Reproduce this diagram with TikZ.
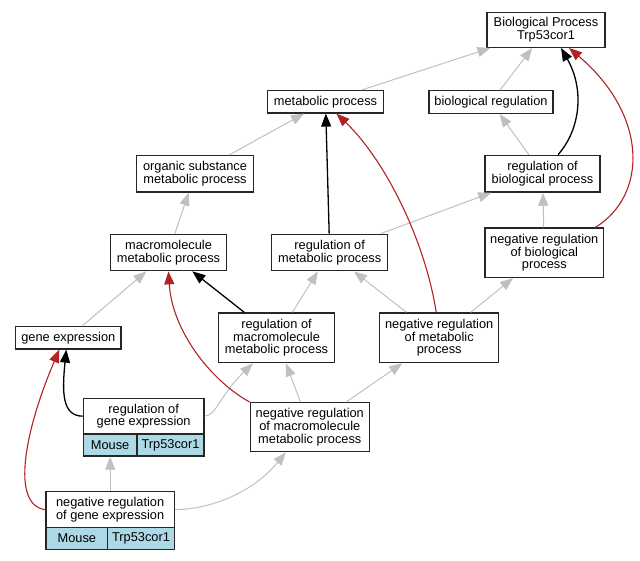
\documentclass[tikz,border=0pt]{standalone}
\usepackage{fontspec}
\setmainfont{Liberation Sans}
\usetikzlibrary{arrows.meta}
\definecolor{edgegray}{RGB}{192,192,192}
\definecolor{edgered}{RGB}{178,34,34}
\definecolor{cellblue}{RGB}{173,216,230}
\tikzset{
  box/.style={draw=black!85, line width=1.3pt, fill=white, inner sep=0pt, align=center,
    font=\fontsize{12.8}{12.8}\selectfont},
  cell/.style={box, fill=cellblue},
  gr/.style={draw=edgegray, line width=1pt, -{Triangle[length=13pt,width=10pt]}, color=edgegray},
  bl/.style={draw=black, line width=1.3pt, -{Triangle[length=13pt,width=10pt]}},
  rd/.style={draw=edgered, line width=1.1pt, -{Triangle[length=13pt,width=10pt]}, color=edgered},
}
\begin{document}
\begin{tikzpicture}[x=1pt,y=-1pt]
\useasboundingbox (0,0) rectangle (640,560);
% nodes
\node[box, minimum width=118pt, minimum height=35pt] (bp) at (546,29.8) {Biological Process\\Trp53cor1};
\node[box, minimum width=116.4pt, minimum height=22.3pt] (mp) at (325.5,101.8) {metabolic process};
\node[box, minimum width=124pt, minimum height=22.6pt] (br) at (491,102) {biological regulation};
\node[box, minimum width=116.6pt, minimum height=36.3pt] (osmp) at (195,173.8) {organic substance\\metabolic process};
\node[box, minimum width=115pt, minimum height=36.7pt] (rbp) at (542.5,173.7) {regulation of\\biological process};
\node[box, minimum width=116.4pt, minimum height=36.4pt] (mmp) at (168.5,252.5) {macromolecule\\metabolic process};
\node[box, minimum width=116pt, minimum height=36.4pt] (rmp) at (329.7,252.5) {regulation of\\metabolic process};
\node[box, minimum width=118.7pt, minimum height=49.3pt] (nrbp) at (544.3,252.7) {negative regulation\\of biological\\process};
\node[box, minimum width=105.3pt, minimum height=22.3pt] (ge) at (68.3,337.8) {gene expression};
\node[box, minimum width=116.4pt, minimum height=49.7pt] (rmmp) at (276.5,337.8) {regulation of\\macromolecule\\metabolic process};
\node[box, minimum width=119pt, minimum height=49.7pt] (nrmp) at (439.2,337.8) {negative regulation\\of metabolic\\process};
\node[box, minimum width=120.7pt, minimum height=35.7pt] (rgeT) at (143.65,416.15) {regulation of\\gene expression};
\node[cell, minimum width=53.7pt, minimum height=22pt] (rgeM) at (110.15,445) {Mouse};
\node[cell, minimum width=67pt, minimum height=22pt] (rgeR) at (170.5,445) {Trp53cor1};
\node[box, minimum width=119pt, minimum height=49pt] (nrmmp) at (309.8,427.2) {negative regulation\\of macromolecule\\metabolic process};
\node[box, minimum width=128.3pt, minimum height=36pt] (nrgeT) at (110.15,509.7) {negative regulation\\of gene expression};
\node[cell, minimum width=61.7pt, minimum height=21.6pt] (nrgeM) at (76.85,538.5) {Mouse};
\node[cell, minimum width=66.6pt, minimum height=21.6pt] (nrgeR) at (141,538.5) {Trp53cor1};
% gray edges
\draw[gr] (mp) -- (bp);
\draw[gr] (br) -- (bp);
\draw[gr] (osmp) -- (mp);
\draw[gr] (mmp) -- (osmp);
\draw[gr] (rbp) -- (br);
\draw[gr] (rmp) -- (rbp);
\draw[gr] (nrbp) -- (rbp);
\draw[gr] (ge) -- (mmp);
\draw[gr] (rmmp) -- (rmp);
\draw[gr] (nrmp) -- (rmp);
\draw[gr] (nrmp) -- (nrbp);
\draw[gr] (nrmmp) -- (rmmp);
\draw[gr] (nrmmp) -- (nrmp);
\draw[gr] (nrgeT) -- (rgeM);
\draw[gr] (rgeT.east) .. controls (216,416) and (220,395) .. ([xshift=-23.5pt]rmmp.south);
\draw[gr] (nrgeT.east) .. controls (215,509) and (255,490) .. ([xshift=-24pt]nrmmp.south);
% black edges
\draw[bl] (rmp) -- (mp);
\draw[bl] (rmmp) -- (mmp);
\draw[bl] (rgeT.west) .. controls (62,416) and (62,392) .. ([xshift=-2pt]ge.south);
\draw[bl] ([xshift=15.5pt]rbp.north) .. controls (580,130) and (585,90) .. ([xshift=15pt]bp.south);
% red edges
\draw[rd] ([xshift=-3pt]nrmp.north) .. controls (425,240) and (385,160) .. ([xshift=11pt]mp.south);
\draw[rd] (nrmmp.north west) .. controls (210,380) and (172,330) .. (mmp.south);
\draw[rd] (nrgeT.west) .. controls (10,505) and (25,430) .. ([xshift=-9pt]ge.south);
\draw[rd] ([xshift=-9pt]nrbp.north east) .. controls (648,195) and (648,115) .. ([xshift=23pt]bp.south);
\end{tikzpicture}
\end{document}
